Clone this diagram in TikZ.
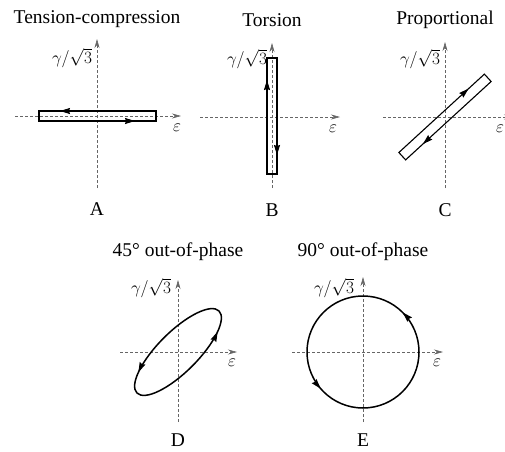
\documentclass[tikz,border=0pt]{standalone}
\usepackage{fontspec}
\setmainfont{Liberation Serif}
\usetikzlibrary{arrows.meta, decorations.markings}
\tikzset{
  ax/.style={-{Stealth[length=9pt,width=5pt]}, line width=0.6pt, draw=black!60, dash pattern=on 3pt off 2pt},
  lp/.style={line width=1.1pt, draw=black},
  rnd/.style={line width=1.5pt, draw=black},
  looptips/.style 2 args={postaction=decorate, decoration={markings,
    mark=at position #1 with {\arrow{Stealth[length=10pt,width=6pt,inset=1pt]}},
    mark=at position #2 with {\arrow{Stealth[length=10pt,width=6pt,inset=1pt]}}}},
  ttl/.style={font=\fontsize{19.5}{22}\selectfont, inner sep=0pt},
  sym/.style={font=\fontsize{17}{19}\selectfont, inner sep=0pt}
}

\begin{document}
\begin{tikzpicture}[x=1pt, y=1pt]
\useasboundingbox (0,0) rectangle (505,451);
% A
\begin{scope}[shift={(97,335)}]
  \draw[ax] (-82,0) -- (84,0);
  \draw[ax] (0,-72) -- (0,77);
  \draw[lp, looptips={0.378}{0.878}] (59,5) -- (-58,5) -- (-58,-5) -- (59,-5) -- cycle;
  \node[ttl] (titA) at (0,97) {Tension-compression};
  \node[sym] (gamA) at (-25,58) {$\gamma/\sqrt{3}$};
  \node[sym] (epsA) at (80,-12) {$\varepsilon$};
  \node[ttl] (labA) at (0,-93) {A};
\end{scope}
% B
\begin{scope}[shift={(272,334)}]
  \draw[ax] (-72,0) -- (68,0);
  \draw[ax] (0,-71) -- (0,74);
  \draw[lp, looptips={0.373}{0.885}] (-5,-57) -- (-5,59) -- (5,59) -- (5,-57) -- cycle;
  \node[ttl] (titB) at (0,97) {Torsion};
  \node[sym] (gamB) at (-25,58) {$\gamma/\sqrt{3}$};
  \node[sym] (epsB) at (61,-12) {$\varepsilon$};
  \node[ttl] (labB) at (0,-93) {B};
\end{scope}
% C
\begin{scope}[shift={(445,334)}]
  \draw[ax] (-62,0) -- (68,0);
  \draw[ax] (0,-71) -- (0,75);
  \draw[lp, rotate=42.5, looptips={0.377}{0.869}] (-58,5) -- (58,5) -- (58,-5) -- (-58,-5) -- cycle;
  \node[ttl] (titC) at (0,97) {Proportional};
  \node[sym] (gamC) at (-25,58) {$\gamma/\sqrt{3}$};
  \node[sym] (epsC) at (55,-12) {$\varepsilon$};
  \node[ttl] (labC) at (0,-93) {C};
\end{scope}
% D
\begin{scope}[shift={(178,99)}]
  \draw[ax] (-58,0) -- (59,0);
  \draw[ax] (0,-70) -- (0,72);
  \draw[rnd, rotate=45, looptips={0.416}{0.916}] (0,0) ellipse [x radius=58, y radius=20];
  \node[ttl] (titD) at (0,100) {45° out-of-phase};
  \node[sym] (gamD) at (-27,64) {$\gamma/\sqrt{3}$};
  \node[sym] (epsD) at (54,-11) {$\varepsilon$};
  \node[ttl] (labD) at (0,-88) {D};
\end{scope}
% E
\begin{scope}[shift={(363,99)}]
  \draw[ax] (-71,0) -- (80,0);
  \draw[ax] (0,-70) -- (0,75);
  \draw[rnd, looptips={0.125}{0.614}] (0,0) circle [radius=56];
  \node[ttl] (titE) at (0,100) {90° out-of-phase};
  \node[sym] (gamE) at (-29,64) {$\gamma/\sqrt{3}$};
  \node[sym] (epsE) at (74,-11) {$\varepsilon$};
  \node[ttl] (labE) at (0,-88) {E};
\end{scope}
\end{tikzpicture}
\end{document}
